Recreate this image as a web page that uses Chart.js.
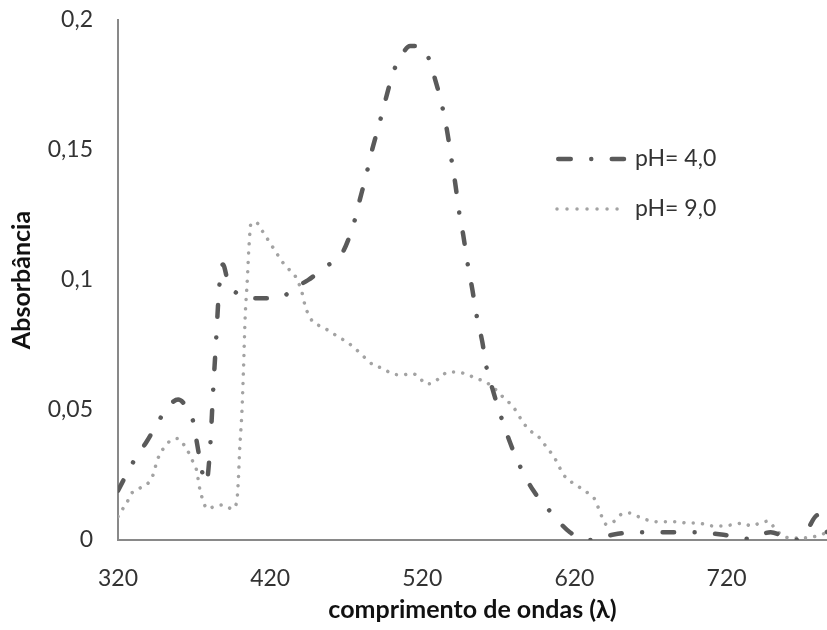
<!DOCTYPE html>
<html><head><meta charset="utf-8">
<script src="https://cdn.jsdelivr.net/npm/chart.js@4.4.1/dist/chart.umd.min.js"></script>
<style>html,body{margin:0;padding:0;background:#fff;} canvas{display:block;}</style>
</head><body>
<canvas id="c" width="827" height="630"></canvas>
<script>
const seriesNames = ['pH= 4,0', 'pH= 9,0'];
const xTitle = 'comprimento de ondas (λ)';
const yTitle = 'Absorbância';
const xTickValues = [320, 420, 520, 620, 720];
const yTickValues = [0, 0.05, 0.1, 0.15, 0.2];

const wavelengthPH4 = [320,330,339,348,354,359.5,364,369,372,375,378,380.5,382.5,384.5,386.5,389,392,396,402,410,420,428,436,445,456,467,474.6,479,483,487,491.7,495.7,501,507,512,518,523,528.5,533,536.4,539,541.7,544,547,549.6,553,555.5,559.5,562,566.7,572,578,584.5,593,604,617,630,645,660,680,700,718,734,749,757,765,772,780,786];
const absorbancePH4 = [0.019,0.030,0.038,0.047,0.052,0.054,0.052,0.0465,0.037,0.027,0.022,0.035,0.057,0.077,0.097,0.106,0.100,0.096,0.094,0.093,0.093,0.0935,0.097,0.100,0.105,0.110,0.121,0.131,0.140,0.150,0.160,0.169,0.180,0.187,0.190,0.190,0.187,0.177,0.167,0.157,0.147,0.137,0.127,0.117,0.107,0.096,0.087,0.076,0.067,0.057,0.047,0.037,0.028,0.019,0.011,0.003,0,0.002,0.003,0.003,0.003,0.002,0.0005,0.003,0.0015,0,0.003,0.0096,0.003];

const wavelengthPH9 = [320,322.6,326,329,334.5,340,343,346,349.6,354,359.5,364,367,369.3,372,373,374,376,378.5,384,389,395,398,399,400,401.5,402.5,403.6,405,406,407.5,411,414.7,418,421.3,424.6,428.6,432.5,437,441,443,445,448,454,460,465,471,475,480,484,489,494,500,507,513,518,522,527,532,537,543,550,556,561,567,573,580,586.5,591,596,600,604,607.5,613,618.7,624,629,633,636,638,641,645.7,650,656,662,668,675,681,688,694,701,706,711,718,725,731,736,742,748,751,756,762,769,775,782,786];
const absorbancePH9 = [0.009,0.0115,0.0146,0.018,0.020,0.022,0.025,0.031,0.035,0.038,0.039,0.036,0.033,0.030,0.026,0.022,0.019,0.015,0.012,0.013,0.0135,0.012,0.0146,0.022,0.035,0.050,0.066,0.086,0.100,0.112,0.122,0.122,0.119,0.116,0.113,0.110,0.1065,0.104,0.101,0.095,0.090,0.087,0.084,0.082,0.080,0.078,0.076,0.074,0.0715,0.069,0.067,0.066,0.064,0.0635,0.064,0.0627,0.060,0.0604,0.0627,0.0646,0.0646,0.0635,0.062,0.061,0.0585,0.055,0.051,0.045,0.042,0.040,0.037,0.034,0.031,0.025,0.022,0.020,0.018,0.016,0.012,0.009,0.006,0.007,0.0096,0.0104,0.009,0.0077,0.007,0.007,0.007,0.0065,0.0065,0.006,0.0054,0.0054,0.006,0.0065,0.0054,0.0065,0.0073,0.005,0.002,0.0008,0.0008,0.001,0.002,0.003];

const FONT = 'Lato, "Open Sans", "Noto Sans", sans-serif';
const TEXT = '#333333';

function pts(xs, ys) { return xs.map((x, i) => ({x: x, y: ys[i]})); }

const legendPlugin = {
  id: 'inlineLegend',
  afterDraw(chart) {
    const ctx = chart.ctx;
    chart.data.datasets.forEach((ds, i) => {
      const y = 159 + i * 50;
      ctx.save();
      ctx.strokeStyle = ds.borderColor;
      ctx.lineWidth = ds.borderWidth;
      ctx.lineCap = 'round';
      ctx.setLineDash(ds.legendDash);
      ctx.beginPath();
      ctx.moveTo(i === 0 ? 558.25 : 557, y);
      ctx.lineTo(i === 0 ? 624 : 618, y);
      ctx.stroke();
      ctx.setLineDash([]);
      ctx.fillStyle = TEXT;
      ctx.font = '23px ' + FONT;
      ctx.textBaseline = 'middle';
      ctx.textAlign = 'left';
      ctx.fillText(ds.label, 635, y);
      ctx.restore();
    });
  }
};

const hiddenGrid = { display: true, drawOnChartArea: false, drawTicks: true, tickLength: 25, color: 'rgba(0,0,0,0)', tickColor: 'rgba(0,0,0,0)' };

new Chart(document.getElementById('c'), {
  type: 'line',
  data: {
    datasets: [
      {
        label: seriesNames[0],
        data: pts(wavelengthPH4, absorbancePH4),
        borderColor: '#5a5a5a',
        borderWidth: 4.5,
        borderCapStyle: 'round',
        borderDash: [11.5, 20.5, 0.01, 20.5],
        legendDash: [12.5, 20.5, 0.01, 20.5],
        pointRadius: 0,
        fill: false,
        tension: 0.4,
        cubicInterpolationMode: 'monotone'
      },
      {
        label: seriesNames[1],
        data: pts(wavelengthPH9, absorbancePH9),
        borderColor: '#a3a3a3',
        borderWidth: 3.5,
        borderCapStyle: 'round',
        borderDash: [0.01, 9.3],
        legendDash: [0.01, 10],
        pointRadius: 0,
        fill: false,
        tension: 0.4,
        cubicInterpolationMode: 'monotone'
      }
    ]
  },
  options: {
    responsive: false,
    animation: false,
    devicePixelRatio: 1,
    layout: { padding: { top: 20, right: 0, left: 0, bottom: 0 } },
    plugins: { legend: { display: false }, tooltip: { enabled: false } },
    scales: {
      x: {
        type: 'linear',
        min: 320, max: 786,
        afterFit: s => { s.height = 90; },
        afterBuildTicks: s => { s.ticks = xTickValues.map(v => ({value: v})); },
        grid: hiddenGrid,
        border: { display: true, color: '#898989', width: 2 },
        ticks: { padding: 0, color: TEXT, font: { family: FONT, size: 23 }, maxRotation: 0, autoSkip: false, callback: v => String(v) },
        title: { display: true, text: xTitle, color: '#111', font: { family: FONT, size: 25, weight: 'bold' }, padding: { top: 0, bottom: 5 } }
      },
      y: {
        min: 0, max: 0.2,
        afterFit: s => { s.width = 118; },
        afterBuildTicks: s => { s.ticks = yTickValues.map(v => ({value: v})); },
        grid: hiddenGrid,
        border: { display: true, color: '#898989', width: 2 },
        ticks: { padding: 0, color: TEXT, font: { family: FONT, size: 23 }, autoSkip: false, callback: v => String(Number(v.toFixed(2))).replace('.', ',') },
        title: { display: true, text: yTitle, color: '#111', font: { family: FONT, size: 25, weight: 'bold' }, padding: { top: 7, bottom: 0 } }
      }
    }
  },
  plugins: [legendPlugin]
});
</script>
</body></html>
